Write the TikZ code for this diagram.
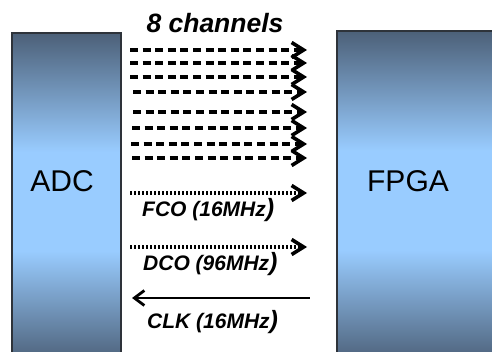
\documentclass[tikz,border=0pt]{standalone}
\usepackage{fontspec}
\setmainfont{Liberation Sans}
\usetikzlibrary{arrows.meta}
\definecolor{dk}{HTML}{4C6078}
\definecolor{lt}{HTML}{99CCFF}
\definecolor{edge}{HTML}{2E333A}
\pgfdeclareverticalshading{boxshade}{100bp}{color(0bp)=(dk); color(25bp)=(dk); color(42bp)=(lt); color(57bp)=(lt); color(75bp)=(dk); color(100bp)=(dk)}
\tikzset{
  chip/.style={draw=edge, line width=1.2pt, shading=boxshade, inner sep=0pt, outer sep=0pt, anchor=north west},
  chiptext/.style={font=\fontsize{30}{30}\selectfont, anchor=base, inner sep=0pt},
  lbl/.style={font=\fontsize{21}{21}\selectfont\bfseries\itshape, anchor=base west, inner sep=0pt},
  dashline/.style={line width=3.6pt, dash pattern=on 8pt off 4.6pt, -{Straight Barb[length=12pt,width=15pt,line width=3.6pt]}},
  dotline/.style={line width=3.4pt, dash pattern=on 2.4pt off 1.6pt, -{Straight Barb[length=12pt,width=15pt,line width=3.6pt]}},
  clkline/.style={line width=2.4pt, {Straight Barb[length=10pt,width=15pt,line width=2.8pt]}-}
}
\begin{document}
\begin{tikzpicture}[x=1pt,y=-1pt]
\useasboundingbox (0,0) rectangle (492,352);
\clip (0,0) rectangle (492,352);
% boxes
\node[chip, minimum width=109pt, minimum height=330pt] (adc) at (12,33) {};
\node[chip, minimum width=175pt, minimum height=332pt] (fpga) at (337,31) {};
\node[chiptext] (adct) at (62,192) {ADC};
\node[chiptext] (fpgat) at (408,192) {FPGA};
% title
\node[font=\fontsize{26.5}{26.5}\selectfont\bfseries\itshape, anchor=base, inner sep=0pt] (title) at (215,33) {8 channels};
% data channels
\foreach \i/\yy/\xs in {1/50/130, 2/63/130, 3/77/130, 4/92/133, 5/112/133, 6/128/132, 7/144/131, 8/158/132}{
  \coordinate (s\i) at (\xs,\yy);
  \coordinate (e\i) at (307,\yy);
  \draw[dashline] (s\i) -- (e\i);
}
% FCO
\coordinate (fcos) at (130,193);
\coordinate (fcoe) at (307,193);
\draw[dotline] (fcos) -- (fcoe);
\node[lbl] (fcol) at (142,217) {FCO (16MHz{\fontsize{25}{25}\selectfont)}};
% DCO
\coordinate (dcos) at (130,247);
\coordinate (dcoe) at (307,247);
\draw[dotline] (dcos) -- (dcoe);
\node[lbl] (dcol) at (143,271) {DCO (96MHz{\fontsize{25}{25}\selectfont)}};
% CLK
\coordinate (clks) at (310,298);
\coordinate (clke) at (132,298);
\draw[clkline] (clke) -- (clks);
\node[lbl] (clkl) at (147,328) {CLK (16MHz{\fontsize{25}{25}\selectfont)}};
\end{tikzpicture}
\end{document}
